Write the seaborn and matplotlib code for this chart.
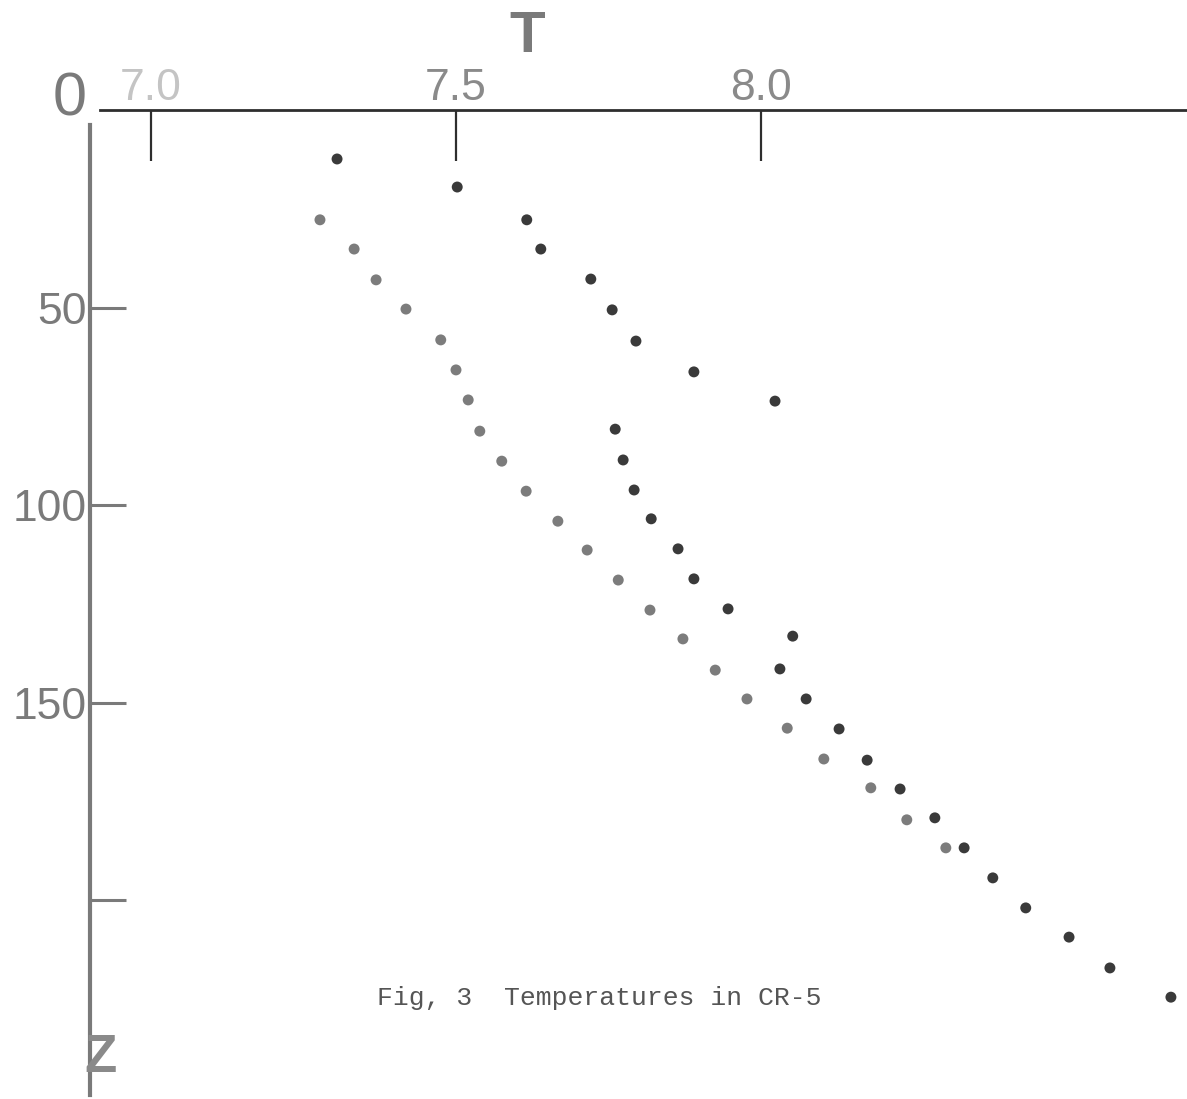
import numpy as np
import pandas as pd
import matplotlib
matplotlib.use("Agg")
import matplotlib.pyplot as plt
import seaborn as sns

# ---------------- data ----------------
dark_T = [7.305, 7.502, 7.616, 7.639, 7.721, 7.756, 7.795, 7.890, 8.023, 7.761,
          7.774, 7.792, 7.820, 7.864, 7.890, 7.946, 8.052, 8.031, 8.074, 8.128,
          8.174, 8.228, 8.285, 8.333, 8.380, 8.434, 8.505, 8.572, 8.672]
dark_Z = [12.4, 19.5, 27.8, 35.2, 42.8, 50.6, 58.5, 66.3, 73.7, 80.8,
          88.6, 96.2, 103.5, 111.1, 118.7, 126.3, 133.2, 141.5, 149.1, 156.7,
          164.6, 171.9, 179.2, 186.8, 194.4, 202.0, 209.4, 217.2, 224.6]
gray_T = [7.277, 7.333, 7.369, 7.418, 7.475, 7.500, 7.520, 7.539, 7.575, 7.615,
          7.667, 7.715, 7.766, 7.818, 7.872, 7.925, 7.977, 8.043, 8.103, 8.180,
          8.239, 8.303]
gray_Z = [27.8, 35.2, 43.0, 50.4, 58.2, 65.8, 73.4, 81.3, 88.9, 96.5,
          104.1, 111.4, 119.0, 126.6, 133.9, 141.8, 149.1, 156.5, 164.3, 171.6,
          179.7, 186.8]
series_names = ["dark", "gray"]
x_ticks = [7.0, 7.5, 8.0]
x_tick_labels = ["7.0", "7.5", "8.0"]
y_ticks = [50, 100, 150, 200]
y_tick_labels = ["50", "100", "150", ""]
x_label = "T"
y_label = "Z"
origin_label = "0"
caption = "Fig, 3  Temperatures in CR-5"

df = pd.DataFrame({
    "T": dark_T + gray_T,
    "Z": dark_Z + gray_Z,
    "series": [series_names[0]] * len(dark_T) + [series_names[1]] * len(gray_T),
})

sns.set_theme(style="white")
plt.rcParams["font.family"] = ["Liberation Sans", "DejaVu Sans"]

W, H = 1187, 1099
fig = plt.figure(figsize=(W / 100, H / 100), dpi=100)
fig.patch.set_facecolor("white")

left_px, top_px, bottom_px = 90, 110, 1095
ax = fig.add_axes([left_px / W, 1 - bottom_px / H, 1 - left_px / W, (bottom_px - top_px) / H])
ax.set_facecolor("white")

sns.scatterplot(data=df, x="T", y="Z", hue="series",
                palette={"dark": "#3a3a3a", "gray": "#7c7c7c"},
                s=62, linewidth=0, legend=False, ax=ax, zorder=3)

px_per_T = 610.0
px_per_Z = 3.95
ax.set_xlim(7.5 + (left_px - 456) / px_per_T, 7.5 + (W - 456) / px_per_T)
ax.set_ylim((bottom_px - top_px) / px_per_Z, 0)

for s in ["right", "bottom"]:
    ax.spines[s].set_visible(False)
ax.spines["top"].set_color("#2e2e2e")
ax.spines["top"].set_linewidth(2.0)
ax.spines["top"].set_bounds(7.5 + (100 - 456) / px_per_T, ax.get_xlim()[1])
ax.spines["left"].set_color("#7a7a7a")
ax.spines["left"].set_linewidth(3.0)
ax.spines["left"].set_bounds(15 / px_per_Z, ax.get_ylim()[0])

ax.xaxis.tick_top()
ax.set_xticks(x_ticks)
ax.set_xticklabels(x_tick_labels)
ax.tick_params(axis="x", top=True, bottom=False, direction="in", length=37,
               width=1.6, color="#2e2e2e", labelsize=32, labelcolor="#8a8a8a", pad=1)
ax.get_xticklabels()[0].set_color("#c4c4c4")

ax.set_yticks(y_ticks)
ax.set_yticklabels(y_tick_labels)
ax.tick_params(axis="y", left=True, right=False, direction="in", length=26,
               width=2.2, color="#7a7a7a", labelsize=32, labelcolor="#7a7a7a", pad=2)
ax.set_xlabel("")
ax.set_ylabel("")
ax.grid(False)

fig.text(527 / W, 1 - 37 / H, x_label, fontsize=42, fontweight="bold",
         color="#7a7a7a", ha="center", va="center")
fig.text(70 / W, 1 - 100 / H, origin_label, fontsize=44, color="#7a7a7a",
         ha="center", va="center")
fig.text(100 / W, 1 - 1058 / H, y_label, fontsize=38, fontweight="bold",
         color="#8a8a8a", ha="center", va="center")
fig.text(377 / W, 1 - 998 / H, caption, fontsize=19, color="#555555",
         family=["Liberation Mono", "DejaVu Sans Mono"], ha="left", va="center")

fig.savefig("out.png", dpi=100, facecolor="white")
